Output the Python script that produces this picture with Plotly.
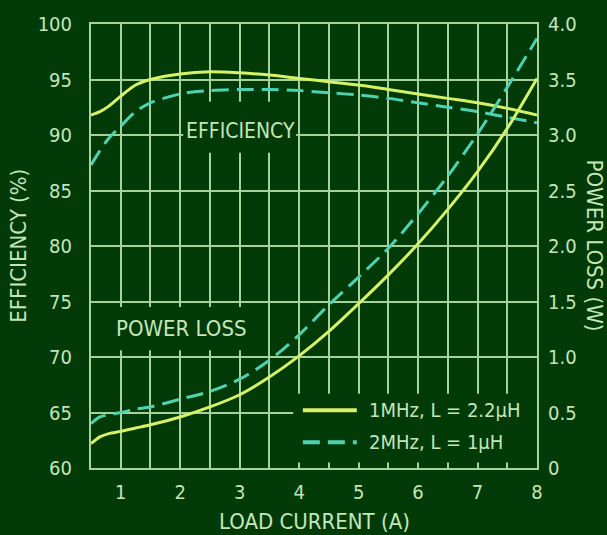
import plotly.graph_objects as go

# Load current (A)
current_a = [0.5, 0.65, 0.8, 1.0, 1.25, 1.5, 2.0, 2.5, 3.0, 3.5, 4.0, 4.5,
             5.0, 5.5, 6.0, 6.5, 7.0, 7.5, 8.0]

# Efficiency (%)
eff_1mhz = [91.8, 92.1, 92.6, 93.5, 94.5, 95.0, 95.5, 95.7, 95.6, 95.4, 95.1,
            94.8, 94.5, 94.1, 93.7, 93.3, 92.9, 92.4, 91.8]
eff_2mhz = [87.3, 88.6, 89.7, 90.8, 92.1, 92.9, 93.7, 94.0, 94.1, 94.1, 94.0,
            93.8, 93.6, 93.3, 92.9, 92.5, 92.1, 91.6, 91.1]

# Power loss (W)
loss_1mhz = [0.22, 0.28, 0.31, 0.33, 0.36, 0.39, 0.46, 0.55, 0.66, 0.82, 1.01,
             1.23, 1.48, 1.74, 2.02, 2.33, 2.67, 3.06, 3.51]
loss_2mhz = [0.40, 0.46, 0.48, 0.50, 0.53, 0.55, 0.62, 0.69, 0.80, 0.97, 1.20,
             1.47, 1.72, 1.98, 2.29, 2.63, 3.01, 3.43, 3.87]

series_names = ["1MHz, L = 2.2µH", "2MHz, L = 1µH"]

x_ticks = [1, 2, 3, 4, 5, 6, 7, 8]
eff_ticks = [60, 65, 70, 75, 80, 85, 90, 95, 100]
loss_ticks = [0, 0.5, 1.0, 1.5, 2.0, 2.5, 3.0, 3.5, 4.0]
loss_tick_text = ["0", "0.5", "1.0", "1.5", "2.0", "2.5", "3.0", "3.5", "4.0"]

BG = "#023a08"
GRID = "#a6d29c"
TEXT = "#c4e6b8"
YELLOW = "#d6f266"
CYAN = "#4fd2b0"
FONT = "DejaVu Sans Condensed, Liberation Sans Narrow, sans-serif"
DASH = "17px,8px"

fig = go.Figure()

for eff, loss, color, dash in [(eff_1mhz, loss_1mhz, YELLOW, "solid"),
                               (eff_2mhz, loss_2mhz, CYAN, DASH)]:
    fig.add_trace(go.Scatter(x=current_a, y=eff, mode="lines",
                             line=dict(color=color, width=3, dash=dash, shape="spline", smoothing=0.8),
                             showlegend=False, yaxis="y"))
    fig.add_trace(go.Scatter(x=current_a, y=loss, mode="lines",
                             line=dict(color=color, width=3, dash=dash, shape="spline", smoothing=0.8),
                             showlegend=False, yaxis="y2"))

# Background panels that interrupt the grid behind the labels and the key
masks = [
    (2.05, 3.95, 88.4, 93.0),   # EFFICIENCY label
    (0.74, 3.26, 70.6, 74.5),   # POWER LOSS label
    (3.90, 8.00, 60.5, 66.7),   # key
]
for x0, x1, y0, y1 in masks:
    fig.add_shape(type="rect", xref="x", yref="y", x0=x0, x1=x1, y0=y0, y1=y1,
                  fillcolor=BG, line=dict(width=0), layer="between")

# Key
key_rows = [(0.130, YELLOW, "solid", series_names[0]), (0.058, CYAN, DASH, series_names[1])]
for ky, color, dash, name in key_rows:
    fig.add_shape(type="line", xref="paper", yref="paper", x0=0.475, x1=0.596, y0=ky, y1=ky,
                  line=dict(color=color, width=4, dash=dash), layer="above")
    fig.add_annotation(text=name, xref="paper", yref="paper", x=0.618, y=ky,
                       xanchor="left", yanchor="middle", showarrow=False,
                       font=dict(family=FONT, size=20, color=TEXT))

fig.add_annotation(text="EFFICIENCY", xref="paper", yref="paper", x=0.336, y=0.758,
                   xanchor="center", yanchor="middle", showarrow=False,
                   font=dict(family=FONT, size=21, color=TEXT))
fig.add_annotation(text="POWER LOSS", xref="paper", yref="paper", x=0.203, y=0.314,
                   xanchor="center", yanchor="middle", showarrow=False,
                   font=dict(family=FONT, size=22, color=TEXT))

# Axis titles
fig.add_annotation(text="EFFICIENCY (%)", xref="paper", yref="paper", x=-0.164, y=0.5,
                   xanchor="center", yanchor="middle", textangle=-90, showarrow=False,
                   font=dict(family=FONT, size=22, color=TEXT))
fig.add_annotation(text="POWER LOSS (W)", xref="paper", yref="paper", x=1.131, y=0.5,
                   xanchor="center", yanchor="middle", textangle=90, showarrow=False,
                   font=dict(family=FONT, size=22, color=TEXT))
fig.add_annotation(text="LOAD CURRENT (A)", xref="paper", yref="paper", x=0.5, y=-0.121,
                   xanchor="center", yanchor="middle", showarrow=False,
                   font=dict(family=FONT, size=22, color=TEXT))

fig.update_layout(
    width=607, height=535,
    margin=dict(l=91, r=70, t=20, b=67),
    paper_bgcolor=BG, plot_bgcolor=BG,
    font=dict(family=FONT, size=20, color=TEXT),
    xaxis=dict(range=[0.5, 8], tickvals=x_ticks, showgrid=True, gridcolor=GRID, gridwidth=2,
               minor=dict(dtick=0.5, tick0=0, showgrid=True, gridcolor=GRID, gridwidth=2),
               showline=True, linecolor=GRID, linewidth=2, mirror=True,
               zeroline=False, ticks="", ticklabelstandoff=5),
    yaxis=dict(range=[60, 100], tickvals=eff_ticks, showgrid=True, gridcolor=GRID, gridwidth=2,
               showline=True, linecolor=GRID, linewidth=2, mirror=True,
               zeroline=False, ticks="", ticklabelstandoff=13),
    yaxis2=dict(range=[0, 4], tickvals=loss_ticks, ticktext=loss_tick_text, overlaying="y",
                side="right", showgrid=False, zeroline=False, ticks="", ticklabelstandoff=10),
)

fig.write_html("out.html")
